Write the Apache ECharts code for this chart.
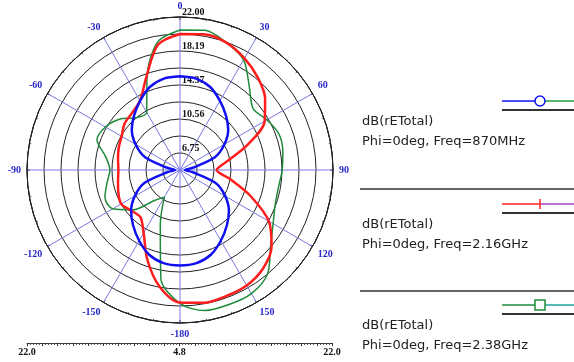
<!DOCTYPE html>
<html>
<head>
<meta charset="utf-8">
<script src="https://cdn.jsdelivr.net/npm/echarts@6/dist/echarts.min.js"></script>
<style>
html,body{margin:0;padding:0;background:#fff;}
#chart{width:574px;height:362px;}
</style>
</head>
<body>
<div id="chart"></div>
<script>
// ---- data ----
var angles = [0,10,20,30,40,50,60,70,80,90,100,110,120,130,140,150,160,170,180,190,200,210,220,230,240,250,260,270,280,290,300,310,320,330,340,350];
var blue870 = [15.35,15.25,14.75,13.8,12.85,11.9,10.6,9.0,6.3,5.4,6.3,9.1,10.7,12.0,13.0,14.0,14.95,15.45,15.55,15.45,14.95,14.0,13.0,12.0,10.7,9.1,6.3,5.4,6.3,9.0,10.6,11.9,12.85,13.8,14.75,15.25];
var red216 = [20.1,20.3,20.05,19.3,18.4,17.3,15.8,12.8,10.1,8.95,10.5,13.2,16.35,18.25,19.3,19.8,19.9,19.97,19.7,18.1,15.55,13.0,11.75,11.95,12.45,12.2,11.9,11.75,11.9,12.15,12.4,12.95,13.2,13.8,15.9,19.1];
var green238 = [20.55,20.75,20.05,19.1,16.95,15.55,16.1,16.65,16.55,16.3,16.05,16.2,16.9,18.1,20.1,20.85,20.9,20.85,19.8,17.2,11.3,8.35,9.3,11.8,13.55,13.8,13.15,12.7,13.3,14.75,14.5,13.7,12.5,12.3,15.7,19.4];
var rMin = 4.84, rMax = 22.0, ringCount = 9;
var legendTitle = 'dB(rETotal)';
var legendSubs = ['Phi=0deg, Freq=870MHz','Phi=0deg, Freq=2.16GHz','Phi=0deg, Freq=2.38GHz'];

function toPairs(vals){
  var out = [];
  for (var i=0;i<angles.length;i++) out.push([Math.max(vals[i], rMin), angles[i]]);
  out.push([Math.max(vals[0], rMin), 360]);
  return out;
}

var ringStep = (rMax - rMin) / ringCount;
var rulerHalf = rMax - rMin;

var chart = echarts.init(document.getElementById('chart'), null, {renderer:'canvas'});

var serifBold = {fontFamily:'Liberation Serif', fontWeight:'bold', fontSize:10};

// legend graphics
var colorsA = ['#1010f0','#ff2020','#1f8a3a'];
var colorsB = ['#20a040','#a040c0','#20a0a0'];
var baseY = [101, 204, 305];
var gfx = [];
for (var k=0;k<3;k++){
  var y = baseY[k];
  gfx.push({type:'line', shape:{x1:502,y1:y,x2:540,y2:y}, style:{stroke:colorsA[k], lineWidth:1.5}});
  gfx.push({type:'line', shape:{x1:540,y1:y,x2:574,y2:y}, style:{stroke:colorsB[k], lineWidth:1.5}});
  gfx.push({type:'line', shape:{x1:502,y1:y+9,x2:574,y2:y+9}, style:{stroke:'#333', lineWidth:2}});
  if (k===0) gfx.push({type:'circle', shape:{cx:540,cy:y,r:5}, style:{stroke:colorsA[k], fill:'#fff', lineWidth:1.5}, z:10});
  if (k===1) gfx.push({type:'line', shape:{x1:540,y1:y-5,x2:540,y2:y+5}, style:{stroke:colorsA[k], lineWidth:1.5}});
  if (k===2) gfx.push({type:'rect', shape:{x:535,y:y-5,width:10,height:10}, style:{stroke:colorsA[k], fill:'#fff', lineWidth:1.5}, z:10});
  gfx.push({type:'text', x:362, y:y+21, style:{text:legendTitle, font:'13px "DejaVu Sans"', fill:'#222', textVerticalAlign:'middle'}});
  gfx.push({type:'text', x:362, y:y+41, style:{text:legendSubs[k], font:'13px "DejaVu Sans"', fill:'#222', textVerticalAlign:'middle'}});
}
gfx.push({type:'line', shape:{x1:360,y1:189,x2:574,y2:189}, style:{stroke:'#333', lineWidth:1.5}});
gfx.push({type:'line', shape:{x1:360,y1:291,x2:574,y2:291}, style:{stroke:'#333', lineWidth:1.5}});

var option = {
  animation:false,
  backgroundColor:'#fff',
  polar:{center:[180,170], radius:153},
  angleAxis:{
    type:'value', min:0, max:360, interval:30, startAngle:90, clockwise:true,
    axisLine:{lineStyle:{color:'#222', width:1}},
    axisTick:{show:true, inside:true, length:3, lineStyle:{color:'#222'}},
    minorTick:{show:true, splitNumber:3, length:2, lineStyle:{color:'#444'}},
    axisLabel:Object.assign({color:'#2828c8', margin:6, formatter:function(v){ if(v===180) return '-180'; return v>180 ? String(v-360) : String(v);} }, serifBold),
    splitLine:{show:true, lineStyle:{color:'#7878e0', width:1}}
  },
  radiusAxis:{
    type:'value', min:rMin, max:rMax, interval:ringStep,
    axisLine:{show:false}, axisTick:{show:false},
    axisLabel:Object.assign({color:'#111', margin:-2, align:'left', verticalAlign:'bottom',
      formatter:function(v){ var idx = Math.round((v - rMin)/ringStep); return idx%2===1 ? v.toFixed(2) : ''; } }, serifBold),
    splitLine:{show:true, lineStyle:{color:'#222', width:1}}
  },
  grid:{left:27, width:305, top:333, height:10},
  xAxis:{
    type:'value', min:-rulerHalf, max:rulerHalf, interval:rulerHalf/10,
    axisLine:{lineStyle:{color:'#333'}},
    axisTick:{length:3, lineStyle:{color:'#333'}},
    minorTick:{show:true, splitNumber:5, length:2, lineStyle:{color:'#555'}},
    splitLine:{show:false},
    axisLabel:Object.assign({color:'#111', margin:4, showMinLabel:true, showMaxLabel:true,
      formatter:function(v){ var i=Math.round(v/(rulerHalf/10)); if(i===0||i===10||i===-10) return (rMin+Math.abs(v)).toFixed(1); return ''; } }, serifBold)
  },
  yAxis:{type:'value', show:false, min:0, max:1},
  series:[
    {type:'line', coordinateSystem:'polar', data:toPairs(blue870), symbol:'none', smooth:0.3, lineStyle:{color:'#1010f0', width:2.5}, z:5},
    {type:'line', coordinateSystem:'polar', data:toPairs(red216), symbol:'none', smooth:0.3, lineStyle:{color:'#ff1c1c', width:2.5}, z:4},
    {type:'line', coordinateSystem:'polar', data:toPairs(green238), symbol:'none', smooth:0.3, lineStyle:{color:'#1f8a3a', width:1.5}, z:3}
  ],
  graphic:gfx
};
chart.setOption(option);
</script>
</body>
</html>
